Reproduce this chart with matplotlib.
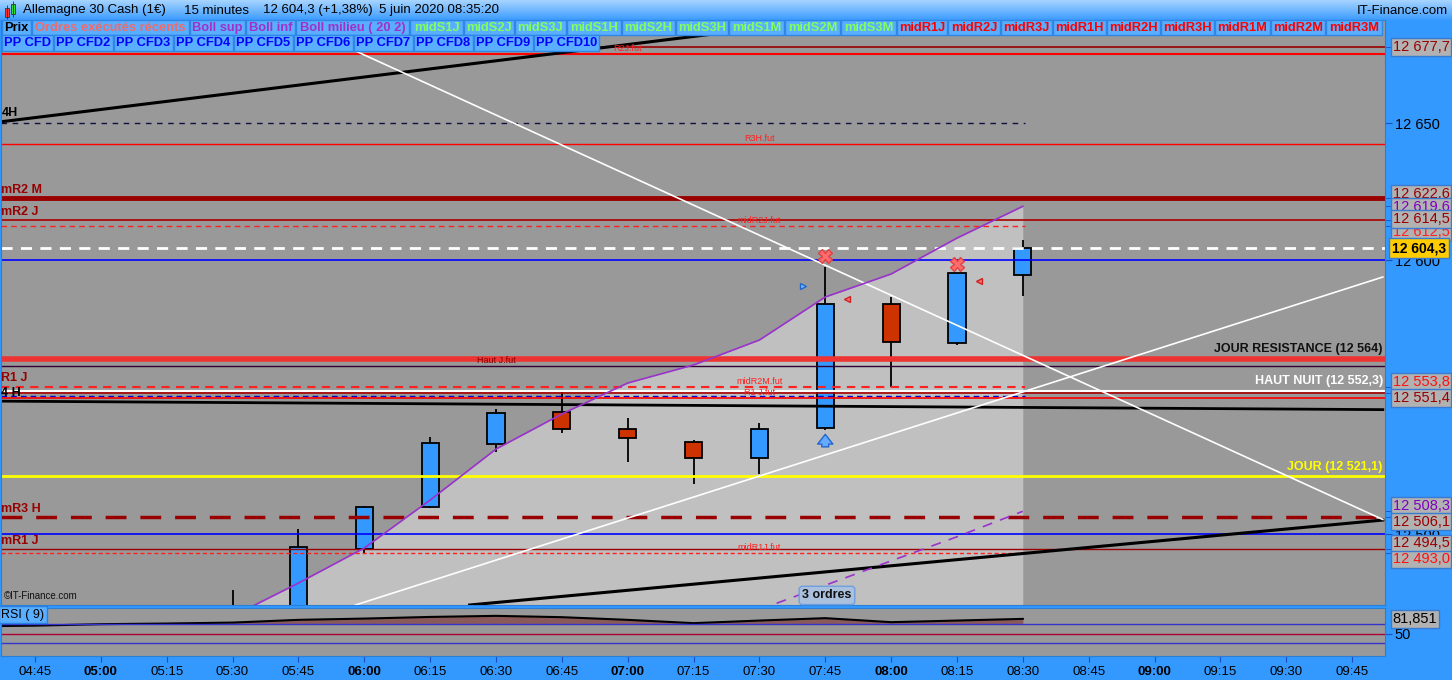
import matplotlib.pyplot as plt
import numpy as np
from matplotlib.patches import Rectangle
from matplotlib.colors import LinearSegmentedColormap

plt.rcParams['font.family'] = ['Liberation Sans', 'DejaVu Sans']
NARROW = ['Liberation Sans Narrow', 'Liberation Sans', 'DejaVu Sans']

W, H = 1452, 680


def tmin(s):
    h, m = s.split(":")
    return int(h) * 60 + int(m)


def fmt_price(v):
    return f"{v:,.1f}".replace(",", " ").replace(".", ",")


# ---- candles (15 minutes) ----
candle_times = ["05:30", "05:45", "06:00", "06:15", "06:30", "06:45", "07:00",
                "07:15", "07:30", "07:45", "08:00", "08:15", "08:30"]
opens = [12452.0, 12466.0, 12494.4, 12509.7, 12532.7, 12544.4, 12538.2,
         12533.5, 12527.6, 12538.6, 12583.8, 12569.6, 12594.4]
highs = [12479.6, 12501.8, 12510.4, 12535.4, 12545.6, 12551.7, 12542.2,
         12534.3, 12540.6, 12597.6, 12586.6, 12595.1, 12607.3]
lows = [12440.0, 12462.0, 12493.2, 12509.5, 12530.0, 12537.0, 12526.4,
        12518.1, 12521.9, 12538.0, 12553.5, 12569.0, 12587.0]
closes = [12466.0, 12495.1, 12509.7, 12533.1, 12544.1, 12538.2, 12534.9,
          12527.6, 12538.2, 12583.8, 12570.0, 12595.1, 12604.3]

# ---- Bollinger ----
boll_sup = [12470.0, 12482.1, 12494.9, 12512.4, 12531.0, 12543.8, 12555.1,
            12561.7, 12570.8, 12586.5, 12594.9, 12608.0, 12619.6]
boll_mid_times = ["07:30", "07:45", "08:00", "08:15", "08:30"]
boll_mid = [12472.4, 12481.3, 12490.2, 12499.0, 12508.3]

# ---- horizontal levels ----
level_names = ["R2J", "R2J.fut", "4H", "R3H.fut", "mR2 M", "mR2 J", "midR2J.fut",
               "dernier", "12600", "JOUR RESISTANCE", "Haut J.fut", "R1 J",
               "HAUT NUIT", "R1J", "R1 J.fut bleu", "R1 J.fut", "JOUR", "mR3 H",
               "12500", "mR1 J", "midR1J.fut"]
level_values = [12677.7, 12675.2, 12650.0, 12642.3, 12622.6, 12614.5, 12612.5,
                12604.3, 12600.0, 12564.0, 12561.3, 12553.8,
                12552.3, 12551.4, 12550.3, 12549.8, 12521.1, 12506.1,
                12500.0, 12494.5, 12493.0]

# ---- trend lines (start time, start price, end time, end price) ----
trend_names = ["4H", "4 H", "bas", "blanc desc", "blanc asc"]
trend_t0 = ["04:37", "04:37", "06:24", "05:42", "05:58"]
trend_p0 = [12650.4, 12548.5, 12474.1, 12688.0, 12474.1]
trend_t1 = ["09:52", "09:52", "09:52", "09:52", "09:52"]
trend_p1 = [12712.6, 12545.4, 12505.1, 12505.3, 12593.8]

# ---- signals ----
cross_times = ["07:45", "08:15"]
cross_prices = [12601.5, 12598.5]
buy_tri_times = ["07:40"]
buy_tri_prices = [12590.5]
sell_tri_times = ["07:50", "08:20"]
sell_tri_prices = [12585.8, 12592.3]
arrow_time = "07:45"
arrow_prices = [12530.8, 12537.4]
orders_text = "3 ordres"

# ---- RSI (9) ----
rsi_times = ["04:30", "04:45", "05:00", "05:15", "05:30", "05:45", "06:00", "06:15",
             "06:30", "06:45", "07:00", "07:15", "07:30", "07:45", "08:00",
             "08:15", "08:30"]
rsi_values = [66.0, 67.5, 70.6, 72.0, 74.0, 79.8, 82.5, 86.0, 88.3, 85.5, 79.8,
              72.8, 78.3, 83.4, 74.9, 78.3, 81.851]

# ---- right axis boxed labels ----
box_values = [12677.7, 12612.5, 12622.6, 12619.6, 12614.5, 12553.8, 12551.4,
              12508.3, 12506.1, 12494.5, 12493.0]
box_colors = ["#990000", "#ff2020", "#990000", "#8000c0", "#990000", "#ff1010",
              "#990000", "#8000c0", "#990000", "#990000", "#ff1010"]
box_shift_px = [0, 6.2, -4.6, 0.2, -1.3, -4.6, 4.8, -5.3, 4.4, -5.8, 6.1]
last_price = 12604.3

time_ticks = ["04:45", "05:00", "05:15", "05:30", "05:45", "06:00", "06:15", "06:30",
              "06:45", "07:00", "07:15", "07:30", "07:45", "08:00", "08:15", "08:30",
              "08:45", "09:00", "09:15", "09:30", "09:45"]

legend_row1 = ["Prix", "Ordres exécutés récents", "Boll sup", "Boll inf",
               "Boll milieu ( 20 2)", "midS1J", "midS2J", "midS3J", "midS1H", "midS2H",
               "midS3H", "midS1M", "midS2M", "midS3M", "midR1J", "midR2J", "midR3J",
               "midR1H", "midR2H", "midR3H", "midR1M", "midR2M", "midR3M"]
legend_row2 = ["PP CFD", "PP CFD2", "PP CFD3", "PP CFD4", "PP CFD5", "PP CFD6",
               "PP CFD7", "PP CFD8", "PP CFD9", "PP CFD10"]


def rect(x0, y0, x1, y1):
    return [x0 / W, 1 - y1 / H, (x1 - x0) / W, (y1 - y0) / H]


fig = plt.figure(figsize=(W / 100, H / 100), dpi=100, facecolor="#3399ff")
ax = fig.add_axes(rect(1, 20, 1385, 605))
rsi_ax = fig.add_axes(rect(1, 608, 1385, 656))

XMIN, XMAX = 277.26, 592.5
YMIN, YMAX = 12474.1, 12687.6
BG = "#999999"
FUT_END = tmin("08:30") + 0.5

ax.set_facecolor(BG)
ax.set_xlim(XMIN, XMAX)
ax.set_ylim(YMIN, YMAX)

# Bollinger envelope fill
ct = np.array([tmin(t) for t in candle_times], dtype=float)
ax.fill_between(ct, boll_sup, YMIN - 50, color="#c0c0c0", lw=0, zorder=0.5)

# candles
for t, o, h_, l_, c in zip(ct, opens, highs, lows, closes):
    col = "#3399ff" if c >= o else "#cc3300"
    ax.vlines(t, l_, h_, color="black", lw=1.3, zorder=1)
    ax.bar(t, c - o, bottom=o, width=3.9, color=col, edgecolor="black", lw=1.3, zorder=1.2)

# levels
styles = {
    "R2J": ("#990000", 1.2, "-", None),
    "R2J.fut": ("#ff0000", 1.5, "-", None),
    "4H": ("#101040", 1.0, (0, (4, 4)), FUT_END),
    "R3H.fut": ("#ff0000", 1.0, "-", None),
    "mR2 M": ("#990000", 3.5, "-", None),
    "mR2 J": ("#aa0000", 1.2, "-", None),
    "midR2J.fut": ("#ff2020", 1.0, (0, (4, 3)), FUT_END),
    "dernier": ("white", 2.0, (0, (4, 3)), None),
    "12600": ("#0000ff", 1.2, "-", None),
    "JOUR RESISTANCE": ("#ee3333", 4.0, "-", None),
    "Haut J.fut": ("#330033", 1.0, "-", None),
    "R1 J": ("#ff2020", 1.5, (0, (4, 3)), FUT_END),
    "HAUT NUIT": ("white", 1.5, "-", None),
    "R1J": ("#aa0000", 1.2, "-", None),
    "R1 J.fut bleu": ("#0000cc", 1.0, (0, (4, 3)), FUT_END),
    "R1 J.fut": ("#ff0000", 1.2, "-", None),
    "JOUR": ("#ffff00", 2.0, "-", None),
    "mR3 H": ("#990000", 2.5, (0, (6, 4)), None),
    "12500": ("#0000ff", 1.2, "-", None),
    "mR1 J": ("#990000", 1.0, "-", None),
    "midR1J.fut": ("#ff2020", 1.0, (0, (3, 2)), FUT_END),
}
for name, v in zip(level_names, level_values):
    col, lw, ls, xend = styles[name]
    ax.hlines(v, XMIN, xend if xend else XMAX, color=col, lw=lw, linestyles=[ls], zorder=2)

# trend lines
tstyle = {"4H": ("black", 2.2), "4 H": ("black", 2.0), "bas": ("black", 2.2),
          "blanc desc": ("white", 1.2), "blanc asc": ("white", 1.2)}
for name, t0, p0, t1, p1 in zip(trend_names, trend_t0, trend_p0, trend_t1, trend_p1):
    col, lw = tstyle[name]
    ax.plot([tmin(t0), tmin(t1)], [p0, p1], color=col, lw=lw, zorder=2.5)

# Bollinger lines
ax.plot(ct, boll_sup, color="#9933cc", lw=1.2, zorder=2.6)
ax.plot([tmin(t) for t in boll_mid_times], boll_mid, color="#9933cc", lw=1.2,
        ls=(0, (6, 5)), zorder=2.6)

# signals
ax.plot([tmin(t) for t in cross_times], cross_prices, ls="none", marker="X", ms=10,
        mfc="#ff6a6a", mec="#dd4444", zorder=4)
ax.plot([tmin(t) for t in buy_tri_times], buy_tri_prices, ls="none", marker=">", ms=5,
        mfc="#7ab8ff", mec="#2266cc", zorder=4)
ax.plot([tmin(t) for t in sell_tri_times], sell_tri_prices, ls="none", marker="<", ms=5,
        mfc="#ff7070", mec="#cc2222", zorder=4)
ax.annotate("", xy=(tmin(arrow_time), arrow_prices[1]), xytext=(tmin(arrow_time), arrow_prices[0]),
            arrowprops=dict(arrowstyle="simple,head_width=1.1,head_length=0.7,tail_width=0.5",
                            fc="#66aaff", ec="#2266cc", lw=1), zorder=4)
ax.text(tmin(arrow_time) + 0.4, 12477.6, orders_text, ha="center", va="center", fontsize=9,
        weight="bold", color="#101010", zorder=5,
        bbox=dict(boxstyle="round,pad=0.25", fc="#aac0dc", ec="#6f9fe0", lw=1))

# level texts
lv = dict(zip(level_names, level_values))
ax.text(XMAX - 0.5, lv["JOUR RESISTANCE"] + 1.2, "JOUR RESISTANCE (12 564)", ha="right",
        va="bottom", fontsize=9, weight="bold", color="#111111", zorder=5)
ax.text(XMAX - 0.5, lv["HAUT NUIT"] + 1.2, "HAUT NUIT (12 552,3)", ha="right", va="bottom",
        fontsize=9, weight="bold", color="white", zorder=5)
ax.text(XMAX - 0.5, lv["JOUR"] + 1.2, "JOUR (12 521,1)", ha="right", va="bottom",
        fontsize=9, weight="bold", color="#ffff00", zorder=5)

left_labels = [("4H", 12650.4, "black"), ("mR2 M", lv["mR2 M"], "#990000"),
               ("mR2 J", lv["mR2 J"], "#990000"), ("R1 J", lv["R1 J"], "#990000"),
               ("4 H", 12548.5, "black"), ("mR3 H", lv["mR3 H"], "#990000"),
               ("mR1 J", lv["mR1 J"], "#990000")]
for txt, v, col in left_labels:
    ax.text(XMIN + 0.1, v + 0.9, txt, ha="left", va="bottom", fontsize=9, weight="bold",
            color=col, zorder=5)

mid_labels = [("R2J.fut", "R2J.fut", "07:00"), ("R3H.fut", "R3H.fut", "07:30"),
              ("midR2J.fut", "midR2J.fut", "07:30"), ("Haut J.fut", "Haut J.fut", "06:30"),
              ("midR2M.fut", "R1 J", "07:30"), ("R1 J.fut", "R1 J.fut", "07:30"),
              ("midR1J.fut", "midR1J.fut", "07:30")]
for txt, key, t in mid_labels:
    col = "#880000" if key == "Haut J.fut" else "#ff2020"
    ax.text(tmin(t), lv[key] + 0.3, txt, ha="center", va="bottom", fontsize=6.5,
            color=col, zorder=5)

ax.text(0.002, 0.006, "©IT-Finance.com", transform=ax.transAxes, fontsize=7,
        color="#111111", ha="left", va="bottom", zorder=5)

# right axis
ax.yaxis.tick_right()
ax.set_yticks([12500, 12600, 12650])
ax.set_yticklabels([fmt_price(v)[:-2] for v in [12500, 12600, 12650]])
ax.set_yticks(box_values, minor=True)
ax.tick_params(axis="y", which="both", direction="out", length=5, color="#1a4fbf",
               labelsize=10.5, pad=2, labelcolor="black")
for lbl in ax.get_yticklabels():
    lbl.set_family(NARROW)
ax.tick_params(axis="x", bottom=False, labelbottom=False)
for s in ax.spines.values():
    s.set_color("#2a7fd4")

# boxes drawn in list order, later ones on top
for i, (v, col, dy) in enumerate(zip(box_values, box_colors, box_shift_px)):
    ax.annotate(fmt_price(v), xy=(1, v), xycoords=("axes fraction", "data"),
                xytext=(5.5, -dy * 0.72), textcoords="offset points", ha="left", va="center",
                fontsize=10.5, family=NARROW, color=col, annotation_clip=False,
                zorder=6 + i * 0.01,
                bbox=dict(boxstyle="square,pad=0.12", fc="#b2b2b2", ec="#3a7ad0", lw=1))
ax.annotate(fmt_price(last_price), xy=(1, last_price), xycoords=("axes fraction", "data"),
            xytext=(5, 0), textcoords="offset points", ha="left", va="center",
            fontsize=10, weight="bold", color="black", annotation_clip=False, zorder=7,
            bbox=dict(boxstyle="square,pad=0.22", fc="#ffcc00", ec="#3a7ad0", lw=1))

# RSI panel
rsi_ax.set_facecolor(BG)
rsi_ax.set_xlim(XMIN, XMAX)
rsi_ax.set_ylim(3, 105)
rt = np.array([tmin(t) for t in rsi_times], dtype=float)
rv = np.array(rsi_values)
rsi_ax.fill_between(rt, rv, 70, where=rv > 70, interpolate=True, color="#8a5a5a", lw=0)
rsi_ax.plot(rt, rv, color="black", lw=1.5)
rsi_ax.axhline(70, color="#3333cc", lw=1)
rsi_ax.axhline(30, color="#3333cc", lw=1)
rsi_ax.axhline(50, color="#aa0033", lw=1)
rsi_ax.yaxis.tick_right()
rsi_ax.set_yticks([50])
rsi_ax.set_yticklabels(["50"])
rsi_ax.tick_params(axis="y", direction="out", length=5, color="#1a4fbf", labelsize=10.5, pad=2)
rsi_ax.annotate(f"{rsi_values[-1]:.3f}".replace(".", ","), xy=(1, rsi_values[-1]),
                xycoords=("axes fraction", "data"), xytext=(5.5, 0), textcoords="offset points",
                ha="left", va="center", fontsize=10.5, family=NARROW, color="black",
                annotation_clip=False,
                bbox=dict(boxstyle="square,pad=0.12", fc="#b2b2b2", ec="#3a7ad0", lw=1))
rsi_ax.text(0.0, 0.98, "RSI ( 9)", transform=rsi_ax.transAxes, ha="left", va="top", fontsize=9,
            color="black", bbox=dict(boxstyle="square,pad=0.2", fc="#5aaeff", ec="#2a80e0", lw=1))
tick_pos = [tmin(t) for t in time_ticks]
rsi_ax.set_xticks(tick_pos)
rsi_ax.set_xticklabels(time_ticks)
rsi_ax.tick_params(axis="x", direction="out", length=4, color="#1a4fbf", labelsize=9.5, pad=3)
for lbl, t in zip(rsi_ax.get_xticklabels(), time_ticks):
    lbl.set_fontweight("bold" if t.endswith(":00") else "normal")
for s in rsi_ax.spines.values():
    s.set_color("#2a7fd4")

# overlay: header and legend boxes
ov = fig.add_axes([0, 0, 1, 1])
ov.set_zorder(10)
ov.patch.set_alpha(0)
ov.axis("off")
grad = LinearSegmentedColormap.from_list("hdr", ["#a6d4ff", "#3d9cff"])
ov.imshow(np.linspace(0, 1, 40)[:, None], extent=(0, W, 20, 0), cmap=grad, aspect="auto")
ov.set_xlim(0, W)
ov.set_ylim(H, 0)
ov.add_patch(Rectangle((5, 8), 4, 9, fc="#ff3333", ec="#333333", lw=0.6))
ov.vlines(7, 5, 19, color="#333333", lw=0.6)
ov.add_patch(Rectangle((11, 4), 4, 10, fc="#33dd33", ec="#333333", lw=0.6))
ov.vlines(13, 1, 17, color="#333333", lw=0.6)
header_parts = [("Allemagne 30 Cash (1€)", 23), ("15 minutes", 184),
                ("12 604,3 (+1,38%)", 263), ("5 juin 2020 08:35:20", 379)]
for txt, x in header_parts:
    ov.text(x, 10.5, txt, ha="left", va="center", fontsize=9.5, color="black")
ov.text(W - 4, 10.5, "IT-Finance.com", ha="right", va="center", fontsize=9.5, color="black")

row1_edges = [2, 32, 190, 246, 296, 410, 464, 515, 567, 622, 676, 729, 785, 841, 897,
              948, 1001, 1053, 1107, 1161, 1215, 1271, 1326, 1383]
row1_colors = ["black", "#f06a6a", "#a030c8", "#a030c8", "#a030c8"] + ["#80ff60"] * 9 + \
              ["#ff0000"] * 9
row2_edges = [2, 54, 114, 174, 234, 294, 354, 414, 474, 534, 600]
for labels, edges, cols, y0, y1 in [
        (legend_row1, row1_edges, row1_colors, 20, 35),
        (legend_row2, row2_edges, ["#0000ff"] * len(legend_row2), 35, 51)]:
    for i, txt in enumerate(labels):
        x0, x1 = edges[i], edges[i + 1] - 1
        ov.add_patch(Rectangle((x0, y0), x1 - x0, y1 - y0, fc="#5aaeff", ec="#2f86e6", lw=1))
        ov.text((x0 + x1) / 2, (y0 + y1) / 2 + 0.5, txt, ha="center", va="center",
                fontsize=9.3, weight="bold", color=cols[i])

fig.savefig("out.png", dpi=100, facecolor=fig.get_facecolor())
